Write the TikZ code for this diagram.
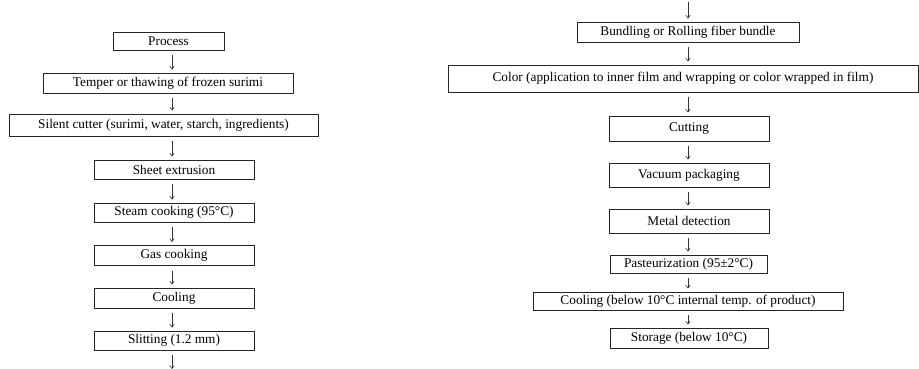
\documentclass[tikz,border=0pt]{standalone}
\usepackage{fontspec}
\setmainfont{Liberation Serif}
\usetikzlibrary{arrows.meta}
\begin{document}
\begin{tikzpicture}[x=1pt,y=-1pt,
  box/.style={draw=black!85, line width=0.9pt, inner sep=0pt, font=\fontsize{13.3}{15}\selectfont},
  arr/.style={draw=black!80, line width=0.6pt, -{Straight Barb[length=3pt,width=4.5pt]}, shorten <=5pt, shorten >=3pt}]
\useasboundingbox (0,0) rectangle (919,369);
% left column
\coordinate (lx) at (172,0);
\node[box, minimum width=111pt, minimum height=18pt] (p1) at (168.5,41) {Process};
\node[box, minimum width=250pt, minimum height=20pt] (p2) at (168,83) {Temper or thawing of frozen surimi};
\node[box, minimum width=309pt, minimum height=22pt] (p3) at (163.5,125) {Silent cutter (surimi, water, starch, ingredients)};
\node[box, minimum width=160pt, minimum height=19pt] (p4) at (174,169.5) {Sheet extrusion};
\node[box, minimum width=160pt, minimum height=19pt] (p5) at (174,212.5) {Steam cooking (95°C)};
\node[box, minimum width=160pt, minimum height=20pt] (p6) at (174,255.5) {Gas cooking};
\node[box, minimum width=160pt, minimum height=20pt] (p7) at (174,298) {Cooling};
\node[box, minimum width=160pt, minimum height=19pt] (p8) at (174,340.5) {Slitting (1.2 mm)};
\coordinate (lend) at (172,372);
\draw[arr] (p1.south -| lx) -- (p2.north -| lx);
\draw[arr] (p2.south -| lx) -- (p3.north -| lx);
\draw[arr] (p3.south -| lx) -- (p4.north -| lx);
\draw[arr] (p4.south -| lx) -- (p5.north -| lx);
\draw[arr] (p5.south -| lx) -- (p6.north -| lx);
\draw[arr] (p6.south -| lx) -- (p7.north -| lx);
\draw[arr] (p7.south -| lx) -- (p8.north -| lx);
\draw[arr] (p8.south -| lx) -- (lend);
% right column
\coordinate (rx) at (688,0);
\coordinate (rtop) at (688,-3);
\node[box, minimum width=222pt, minimum height=20pt] (q1) at (688,32) {Bundling or Rolling fiber bundle};
\node[box, minimum width=470pt, minimum height=27pt] (q2) at (683,78.5) {Color (application to inner film and wrapping or color wrapped in film)};
\node[box, minimum width=160pt, minimum height=25pt] (q3) at (689,128.5) {Cutting};
\node[box, minimum width=160pt, minimum height=24pt] (q4) at (689,175) {Vacuum packaging};
\node[box, minimum width=160pt, minimum height=24pt] (q5) at (689,221) {Metal detection};
\node[box, minimum width=157pt, minimum height=18pt] (q6) at (688.5,264) {Pasteurization (95±2°C)};
\node[box, minimum width=310pt, minimum height=18pt] (q7) at (688,301) {Cooling (below 10°C internal temp. of product)};
\node[box, minimum width=158pt, minimum height=20pt] (q8) at (689,338) {Storage (below 10°C)};
\draw[arr] (rtop) -- (q1.north -| rx);
\draw[arr] (q1.south -| rx) -- (q2.north -| rx);
\draw[arr] (q2.south -| rx) -- (q3.north -| rx);
\draw[arr] (q3.south -| rx) -- (q4.north -| rx);
\draw[arr] (q4.south -| rx) -- (q5.north -| rx);
\draw[arr] (q5.south -| rx) -- (q6.north -| rx);
\draw[arr] (q6.south -| rx) -- (q7.north -| rx);
\draw[arr] (q7.south -| rx) -- (q8.north -| rx);
\end{tikzpicture}
\end{document}
